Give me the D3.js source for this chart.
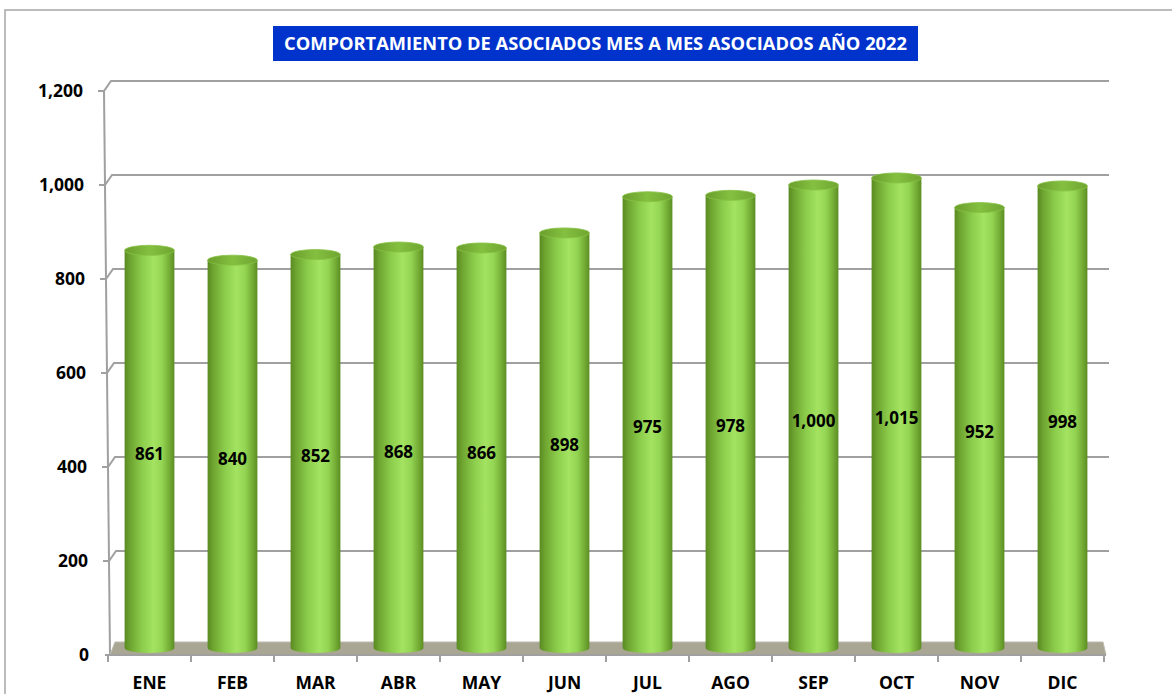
<!DOCTYPE html>
<html>
<head>
<meta charset="utf-8">
<script src="https://cdn.jsdelivr.net/npm/d3@7"></script>
<style>
  body { margin: 0; background: #fff; }
  text { font-family: "Open Sans", sans-serif; font-weight: bold; }
</style>
</head>
<body>
<div id="container"></div>
<script>
let months = ['ENE', 'FEB', 'MAR', 'ABR', 'MAY', 'JUN', 'JUL', 'AGO', 'SEP', 'OCT', 'NOV', 'DIC'],
  asociados = [861, 840, 852, 868, 866, 898, 975, 978, 1000, 1015, 952, 998],
  y_ticks = [0, 200, 400, 600, 800, 1000, 1200],
  title = 'COMPORTAMIENTO DE ASOCIADOS MES A MES ASOCIADOS AÑO 2022',
  width = 1172,
  height = 694,
  depth = { dx: 7, dy: -10 }

let svg = d3.select('#container')
  .append('svg')
  .attr('width', width)
  .attr('height', height)

// marco exterior
svg.append('rect')
  .attr('x', 5).attr('y', 10)
  .attr('width', width + 20).attr('height', height + 20)
  .attr('fill', 'none')
  .attr('stroke', '#a6a6a6')
  .attr('stroke-width', 1.5)

// titulo
svg.append('rect')
  .attr('x', 273).attr('y', 26)
  .attr('width', 645).attr('height', 35)
  .attr('fill', '#0033cc')
svg.append('text')
  .attr('x', 595.5).attr('y', 50)
  .attr('text-anchor', 'middle')
  .attr('fill', '#fff')
  .attr('font-size', 18.3)
  .text(title)

let scale_y = d3.scaleLinear()
  .domain([0, 1200])
  .range([655, 91])

// eje y ligeramente inclinado (perspectiva)
let axis_x = d3.scaleLinear()
  .domain([0, 1200])
  .range([110, 104])

let scale_x = d3.scaleBand()
  .domain(months)
  .range([108, 1104])

let bar_w = scale_x.bandwidth() * 0.6,
  ry = 5,
  right_end = 1109

// lineas de cuadricula 3D
let grid = svg.append('g')
grid.selectAll('path')
  .data(y_ticks.filter(d => d > 0))
  .enter().append('path')
  .attr('d', d => {
    let x0 = axis_x(d), y0 = scale_y(d)
    return 'M' + (x0 - 6) + ',' + y0 + 'L' + x0 + ',' + y0 +
      'L' + (x0 + depth.dx) + ',' + (y0 + depth.dy) +
      'L' + right_end + ',' + (y0 + depth.dy)
  })
  .attr('fill', 'none')
  .attr('stroke', '#a0a0a0')
  .attr('stroke-width', 2)

// eje y
svg.append('line')
  .attr('x1', axis_x(0)).attr('y1', scale_y(0))
  .attr('x2', axis_x(1200)).attr('y2', scale_y(1200))
  .attr('stroke', '#a0a0a0')
  .attr('stroke-width', 2)
svg.append('line')
  .attr('x1', axis_x(0) - 5).attr('y1', scale_y(0))
  .attr('x2', axis_x(0)).attr('y2', scale_y(0))
  .attr('stroke', '#a0a0a0')
  .attr('stroke-width', 2)

svg.append('g').selectAll('text')
  .data(y_ticks).enter().append('text')
  .attr('x', d => axis_x(d) - 21)
  .attr('y', d => scale_y(d))
  .attr('dy', '0.36em')
  .attr('text-anchor', 'end')
  .attr('font-size', 17.5)
  .attr('fill', '#000')
  .text(d => d3.format(',')(d))

// piso
let floor_y = scale_y(0)
svg.append('path')
  .attr('d', 'M' + 110 + ',' + floor_y + 'L' + 115 + ',' + (floor_y - 13) +
    'L' + 1103 + ',' + (floor_y - 13) + 'L' + 1106 + ',' + floor_y + 'Z')
  .attr('fill', '#a9a694')
  .attr('stroke', '#bdbbad')
  .attr('stroke-width', 1)

// eje x
svg.append('line')
  .attr('x1', 108).attr('y1', floor_y)
  .attr('x2', 1106).attr('y2', floor_y)
  .attr('stroke', '#a0a0a0')
  .attr('stroke-width', 2)
svg.append('g').selectAll('line')
  .data(months.concat(['end'])).enter().append('line')
  .attr('x1', (d, i) => 108 + i * scale_x.step())
  .attr('x2', (d, i) => 108 + i * scale_x.step())
  .attr('y1', floor_y)
  .attr('y2', floor_y + 7)
  .attr('stroke', '#a0a0a0')
  .attr('stroke-width', 2)

let x_axis = d3.axisBottom().scale(scale_x).tickSize(0).tickPadding(0)
let gx = svg.append('g')
  .attr('transform', 'translate(0,' + (floor_y + 34) + ')')
  .call(x_axis)
gx.select('.domain').remove()
gx.selectAll('text')
  .attr('font-size', 17.5)
  .attr('font-family', '"Open Sans", sans-serif')
  .attr('font-weight', 'bold')
  .attr('fill', '#000')
  .attr('dy', 0)

// degradados del cilindro
let defs = svg.append('defs')
let body_grad = defs.append('linearGradient')
  .attr('id', 'body')
  .attr('x1', '0%').attr('x2', '100%')
  .attr('y1', '0%').attr('y2', '0%')
;[['0%', '#5a8a22'], ['12%', '#6fa631'], ['35%', '#8ccd4c'], ['58%', '#a3e361'],
  ['75%', '#94d553'], ['90%', '#74ad35'], ['100%', '#5c8e24']].forEach(s => {
  body_grad.append('stop').attr('offset', s[0]).attr('stop-color', s[1])
})
let top_grad = defs.append('linearGradient')
  .attr('id', 'top')
  .attr('x1', '0%').attr('x2', '100%')
  .attr('y1', '0%').attr('y2', '0%')
;[['0%', '#6a9e2c'], ['50%', '#84c040'], ['100%', '#6fa531']].forEach(s => {
  top_grad.append('stop').attr('offset', s[0]).attr('stop-color', s[1])
})

let base_y = floor_y - 7

let bars = svg.append('g').selectAll('g')
  .data(asociados).enter().append('g')

bars.append('path')
  .attr('d', (d, i) => {
    let cx = scale_x(months[i]) + scale_x.bandwidth() / 2,
      x0 = cx - bar_w / 2, x1 = cx + bar_w / 2,
      yt = scale_y(d)
    return 'M' + x0 + ',' + yt + 'L' + x0 + ',' + base_y +
      'A' + (bar_w / 2) + ',' + ry + ' 0 0 0 ' + x1 + ',' + base_y +
      'L' + x1 + ',' + yt + 'Z'
  })
  .attr('fill', 'url(#body)')

bars.append('ellipse')
  .attr('cx', (d, i) => scale_x(months[i]) + scale_x.bandwidth() / 2)
  .attr('cy', d => scale_y(d))
  .attr('rx', bar_w / 2)
  .attr('ry', ry)
  .attr('fill', 'url(#top)')
  .attr('stroke', '#86c244')
  .attr('stroke-width', 0.8)

bars.append('text')
  .attr('x', (d, i) => scale_x(months[i]) + scale_x.bandwidth() / 2)
  .attr('y', d => (scale_y(d) + base_y) / 2)
  .attr('dy', '0.62em')
  .attr('text-anchor', 'middle')
  .attr('font-size', 17)
  .attr('fill', '#000')
  .text(d => d3.format(',')(d))
</script>
</body>
</html>
